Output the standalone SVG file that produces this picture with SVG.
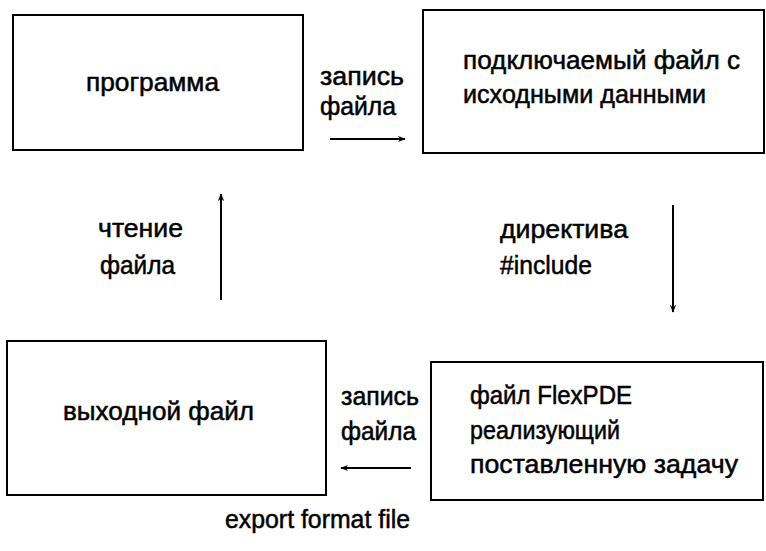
<svg xmlns="http://www.w3.org/2000/svg" width="766" height="551" viewBox="0 0 766 551">
<defs>
<style>
.box{fill:#fff;stroke:#000;stroke-width:2}
.t{font-family:"Liberation Sans",Arial,sans-serif;font-size:25px;fill:#000;stroke:#000;stroke-width:0.5}
.c{stroke:#000;stroke-width:2;fill:none}
</style>
<marker id="ah" viewBox="0 0 10 10" refX="9" refY="5" markerWidth="8" markerHeight="8" orient="auto" markerUnits="userSpaceOnUse">
<path d="M0,1 L10,5 L0,9 L3,5 Z" fill="#000"/>
</marker>
</defs>
<rect width="766" height="551" fill="#fff"/>
<g id="program">
<rect class="box" x="13" y="15" width="290" height="135"/>
<text class="t" x="86" y="91" textLength="133" lengthAdjust="spacingAndGlyphs">программа</text>
</g>
<g id="include-file">
<rect class="box" x="423" y="10" width="341" height="143"/>
<text class="t" x="463" y="69" textLength="277" lengthAdjust="spacingAndGlyphs">подключаемый файл с</text>
<text class="t" x="463" y="103" textLength="243" lengthAdjust="spacingAndGlyphs">исходными данными</text>
</g>
<g id="output-file">
<rect class="box" x="7" y="341" width="319" height="154"/>
<text class="t" x="63" y="420" textLength="191" lengthAdjust="spacingAndGlyphs">выходной файл</text>
</g>
<g id="flexpde-file">
<rect class="box" x="431" y="362" width="332" height="138"/>
<text class="t" x="470" y="404" textLength="162" lengthAdjust="spacingAndGlyphs">файл FlexPDE</text>
<text class="t" x="470" y="439" textLength="150" lengthAdjust="spacingAndGlyphs">реализующий</text>
<text class="t" x="470" y="473" textLength="268" lengthAdjust="spacingAndGlyphs">поставленную задачу</text>
</g>
<g id="connectors">
<line class="c" x1="330" y1="139" x2="405" y2="139" marker-end="url(#ah)"/>
<line class="c" x1="673" y1="205" x2="673" y2="312" marker-end="url(#ah)"/>
<line class="c" x1="411" y1="468" x2="341" y2="468" marker-end="url(#ah)"/>
<line class="c" x1="221" y1="300" x2="221" y2="194" marker-end="url(#ah)"/>
</g>
<g id="labels">
<text class="t" x="320" y="85" textLength="84" lengthAdjust="spacingAndGlyphs">запись</text>
<text class="t" x="320" y="115" textLength="76" lengthAdjust="spacingAndGlyphs">файла</text>
<text class="t" x="98" y="237" textLength="85" lengthAdjust="spacingAndGlyphs">чтение</text>
<text class="t" x="100" y="274" textLength="75" lengthAdjust="spacingAndGlyphs">файла</text>
<text class="t" x="500" y="238" textLength="128" lengthAdjust="spacingAndGlyphs">директива</text>
<text class="t" x="500" y="274" textLength="92" lengthAdjust="spacingAndGlyphs">#include</text>
<text class="t" x="341" y="405" textLength="78" lengthAdjust="spacingAndGlyphs">запись</text>
<text class="t" x="341" y="440" textLength="75" lengthAdjust="spacingAndGlyphs">файла</text>
<text class="t" x="225" y="528" textLength="185" lengthAdjust="spacingAndGlyphs">export format file</text>
</g>
</svg>
